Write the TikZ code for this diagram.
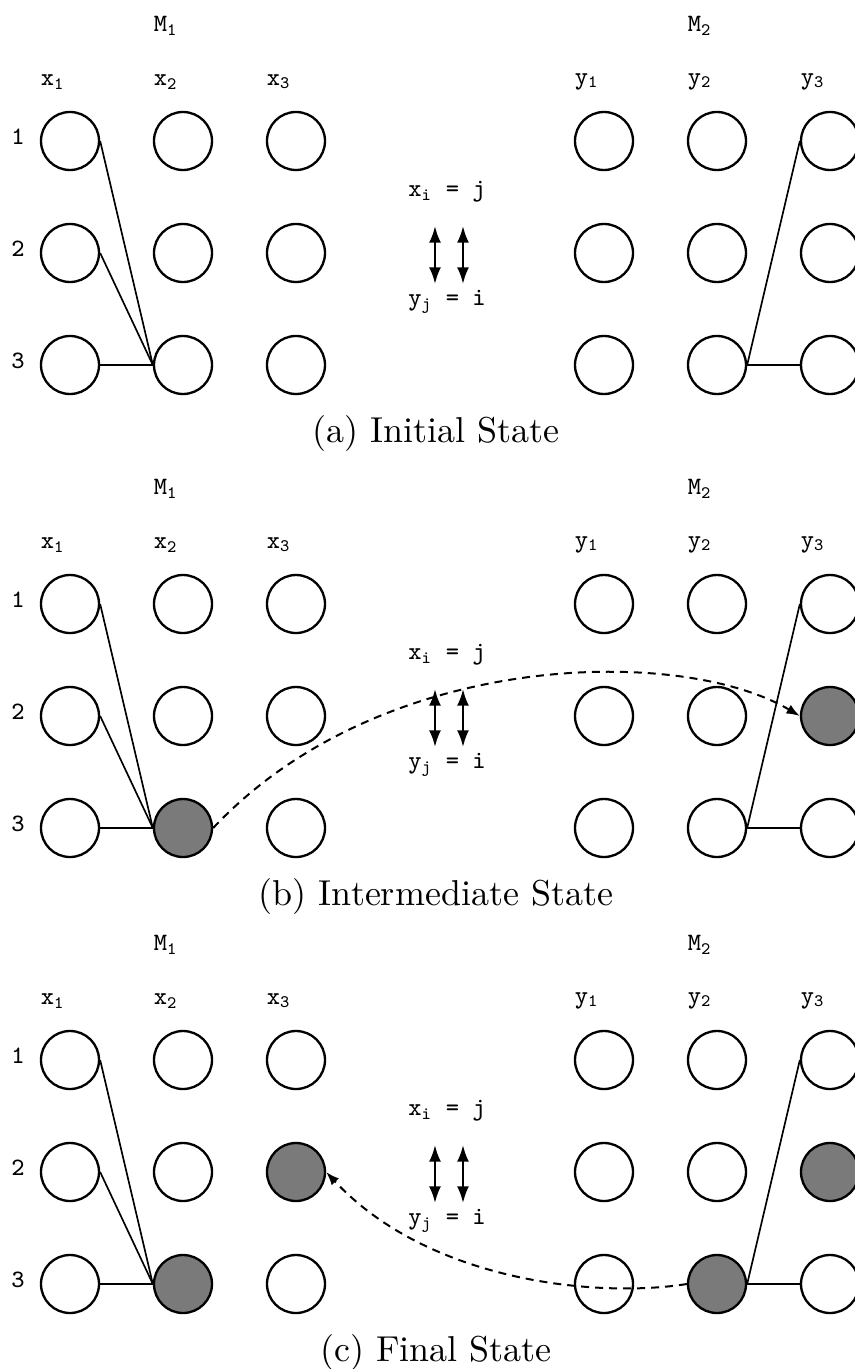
\documentclass[tikz,border=0pt]{standalone}
\usepackage{fontspec}
\usetikzlibrary{arrows.meta}

\begin{document}
\begin{tikzpicture}[x=0.3pt,y=-0.3pt,>=Latex,
  cell/.style={circle,draw,line width=.7pt,minimum size=17.4pt,inner sep=0pt},
  on/.style={fill=black!52},
  lbl/.style={font=\fontsize{7.5}{8}\selectfont\ttfamily,inner sep=1pt},
  capt/.style={font=\fontsize{10.8}{13}\selectfont},
  link/.style={line width=.5pt},
  swap/.style={<->,line width=.7pt,>={Latex[length=5pt,width=3.6pt]}},
  move/.style={->,line width=.6pt,dash pattern=on 2.4pt off 1.8pt,>={Latex[length=4pt,width=3pt]}},
  bx23/.style=on, by32/.style=on,
  cx23/.style=on, cx32/.style=on, cy23/.style=on, cy32/.style=on]

  \useasboundingbox (0,0) rectangle (854,1369);

  \foreach \p/\y/\st in {a/0/Initial, b/463/Intermediate, c/919/Final} {
    % grids of M1 and M2
    \foreach \c/\cx/\cy in {1/70/604, 2/183/717, 3/296/830} {
      \foreach \r/\ry in {1/141, 2/253, 3/365} {
        \node[cell,\p x\c\r/.try] (\p x\c\r) at (\cx,\y+\ry) {};
        \node[cell,\p y\c\r/.try] (\p y\c\r) at (\cy,\y+\ry) {};
      }
      \node[lbl] (\p lx\c) at (\cx-17,\y+82) {x\textsubscript{\c}};
      \node[lbl] (\p ly\c) at (\cy-17,\y+82) {y\textsubscript{\c}};
    }
    \foreach \r/\ry in {1/141, 2/253, 3/365}
      \node[lbl] (\p n\r) at (18,\y+\ry-4) {\r};
    \node[lbl] (\p mx) at (166,\y+26) {M\textsubscript{1}};
    \node[lbl] (\p my) at (700,\y+26) {M\textsubscript{2}};

    % current matching
    \draw[link] (\p x11.east) -- (\p x23.west);
    \draw[link] (\p x12.east) -- (\p x23.west);
    \draw[link] (\p x13) -- (\p x23);
    \draw[link] (\p y31.west) -- (\p y23.east);
    \draw[link] (\p y23) -- (\p y33);

    % x_i = j  <->  y_j = i
    \node[lbl] (\p eqx) at (447,\y+192) {x\textsubscript{i} = j};
    \node[lbl] (\p eqy) at (447,\y+302) {y\textsubscript{j} = i};
    \coordinate (\p s1) at (435,\y+226);
    \coordinate (\p t1) at (435,\y+284);
    \coordinate (\p s2) at (463,\y+226);
    \coordinate (\p t2) at (463,\y+284);
    \draw[swap] (\p s1) -- (\p t1);
    \draw[swap] (\p s2) -- (\p t2);

    \node[capt] (\p cap) at (436,\y+433) {(\p) \st\ State};
  }

  % moves
  \draw[move] (bx23.east) .. controls (380,650) and (680,645) .. (by32.west);
  \draw[move] (cy23.west) .. controls (600,1298) and (430,1283) .. (cx32.east);
\end{tikzpicture}
\end{document}
